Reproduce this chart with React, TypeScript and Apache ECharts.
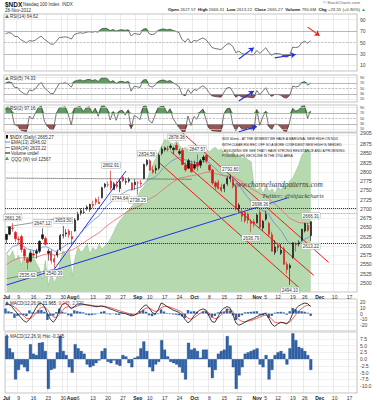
import React, { useEffect, useRef } from "react";
import * as echarts from "echarts";

// ---- data ----
const juneCloses = [2488, 2493, 2500, 2560, 2551, 2576, 2532, 2557, 2537, 2553, 2581, 2598, 2621, 2615, 2565, 2585, 2541, 2556, 2573, 2553, 2616];

const opens = [
  2617, 2631, 2648, 2636, 2618, 2625, 2590, 2565, 2558, 2578, 2580, 2585, 2620, 2620, 2580, 2585, 2565, 2575, 2590, 2628, 2632,
  2640, 2625, 2640, 2670, 2688, 2690, 2700, 2698, 2712, 2725, 2718, 2730, 2760, 2765, 2775, 2752, 2765, 2755, 2785, 2772, 2775, 2770, 2765,
  2770, 2770, 2782, 2820, 2830, 2805, 2805, 2810, 2850, 2860, 2862, 2866, 2860, 2872, 2850, 2858, 2818, 2810, 2822,
  2810, 2825, 2818, 2832, 2845, 2818, 2805, 2770, 2772, 2758, 2755, 2768, 2782, 2780, 2760, 2700, 2690, 2690, 2685, 2665, 2665,
  2662, 2690, 2648, 2672, 2660, 2630, 2582, 2600, 2580, 2592, 2550, 2540, 2568, 2605, 2605, 2615, 2640, 2655, 2627.57,
];
const highs = [
  2632, 2652, 2661.26, 2640, 2625, 2630, 2595, 2570, 2585, 2588, 2592, 2615, 2647.12, 2625, 2592, 2590, 2575, 2590, 2632, 2653.5, 2645,
  2645, 2640, 2675, 2692, 2702, 2703, 2710, 2714, 2722, 2730, 2733, 2760, 2770, 2774, 2802.91, 2772, 2775, 2780, 2790, 2782, 2785, 2772, 2780,
  2775, 2778, 2822, 2834.58, 2834, 2815, 2818, 2850, 2868, 2868, 2870, 2875, 2868, 2878.38, 2862, 2865, 2825, 2835, 2830,
  2830, 2847.57, 2835, 2845, 2846, 2820, 2808, 2775, 2778, 2768, 2768, 2788, 2792.8, 2786, 2762, 2715, 2700, 2695, 2690, 2672, 2672,
  2688, 2698.36, 2670, 2695, 2665, 2638, 2615, 2608, 2605, 2598, 2556, 2552, 2610, 2610, 2615, 2646, 2662, 2662, 2666.31,
];
const lows = [
  2606, 2628, 2638, 2610, 2605, 2582, 2560, 2535.62, 2555, 2570, 2565, 2580, 2615, 2600, 2560, 2552, 2540.39, 2568, 2585, 2620, 2625,
  2622, 2600, 2638, 2668, 2682, 2686, 2695, 2692, 2702, 2710, 2714, 2728, 2755, 2758, 2750, 2752, 2755, 2744.64, 2772, 2765, 2770, 2750, 2752,
  2738.25, 2760, 2780, 2815, 2802, 2795, 2795, 2805, 2845, 2855, 2855, 2860, 2848, 2858, 2845, 2818, 2800, 2808, 2798,
  2805, 2802, 2810, 2825, 2822, 2800, 2765, 2752, 2752, 2745, 2745, 2762, 2772, 2755, 2695, 2690, 2665, 2662, 2660, 2636.79, 2650,
  2660, 2648, 2640, 2668, 2625, 2585, 2575, 2585, 2575, 2548, 2525, 2494.1, 2565, 2585, 2598, 2612, 2636, 2638, 2613.22,
];
const closes = [
  2631, 2651, 2647, 2619, 2617, 2590, 2573, 2555, 2580, 2575, 2585, 2612, 2630, 2604, 2585, 2560, 2556, 2583, 2628, 2630, 2635,
  2630, 2618, 2670, 2685, 2695, 2691, 2705, 2712, 2709, 2718, 2714, 2757, 2767, 2765, 2756, 2768, 2760, 2774, 2776, 2774, 2779, 2752, 2772,
  2770, 2768, 2820, 2831, 2805, 2799, 2810, 2845, 2862, 2865, 2861, 2870, 2864, 2860, 2855, 2820, 2805, 2830, 2800,
  2820, 2815, 2830, 2840, 2830, 2805, 2770, 2760, 2755, 2750, 2765, 2783, 2786, 2765, 2700, 2710, 2680, 2668, 2670, 2660, 2660,
  2683, 2650, 2666, 2685, 2631, 2585, 2597, 2595, 2588, 2550, 2536, 2547, 2608, 2603, 2608, 2645, 2660, 2641.72, 2665.27,
];
// QQQ volume, relative units (0-100 of the panel)
const qqqVolume = [
  24, 22, 26, 20, 23, 17, 25, 20, 27, 22, 18, 15, 8, 20, 4, 12, 6, 10, 20, 26, 23,
  26, 10, 22, 28, 25, 27, 30, 24, 28, 26, 30, 27, 29, 31, 34, 38, 42, 45, 47, 50, 52, 54, 56,
  60, 64, 66, 70, 75, 80, 84, 88, 92, 96, 95, 94, 93, 95, 92, 90, 91, 89, 90,
  90, 91, 89, 92, 90, 88, 90, 91, 89, 90, 87, 88, 86, 88, 85, 86, 84, 85, 83, 82, 66,
  64, 66, 62, 67, 63, 65, 62, 66, 64, 68, 66, 70, 72, 76, 80, 86, 88, 90, 87,
];
const macdLine = [
  15, 16, 13, 6, 0, -6, -12, -15, -10, -2, 8, 16, 18, 12, 0, -10, -15, -8, 6, 16, 18,
  14, 8, 12, 16, 17, 16, 15, 14, 13, 12, 12, 13, 12, 10, 8, 6, 4, 2, 1, 0, -2, -4, -3,
  0, 6, 12, 15, 10, 2, -1, 6, 18, 16, 12, 9, 6, 4, 2, -3, -10, -16, -12,
  -4, 2, 6, 8, 6, -4, -14, -15, -6, 4, 9, 12, 10, -2, -16, -20, -18, -15, -12, -10, -8,
  -5, -3, -1, 0, -8, -18, -22, -18, -15, -16, -18, -12, 0, 8, 13, 16, 18, 17, 12,
];
const macdHist = [
  8.5, 4.0, 2.5, -7.5, -4.0, -2.0, -3.0, -4.5, 5.5, 2.0, 1.5, 6.0, 6.2, 3.0, -11.0, -4.0, -3.5, 2.5, 8.5, 3.0, 1.5,
  -3.0, -5.0, 5.5, 4.0, 3.0, 2.0, -2.0, -3.0, -2.5, -1.5, -0.5, 3.0, 4.0, -1.0, -1.5, -0.5, -2.0, -2.5, 1.5, 1.0, -1.5, -3.0, 0.5,
  1.0, 4.0, 6.5, 3.0, -3.0, -4.5, -2.0, -1.0, 7.0, 3.5, 1.0, -1.0, -1.5, -2.0, -3.0, -5.0, -7.5, 6.0, 3.5,
  4.0, 3.0, 0.5, 3.5, 3.5, -3.0, -7.0, -4.0, 2.0, 3.0, 3.5, 8.5, 5.0, -3.0, -11.0, -6.0, -3.0, 2.0, 2.5, 3.0, 3.5,
  4.0, -2.0, -3.0, 1.5, -7.5, -4.0, 1.5, 2.5, 3.0, 2.0, -2.0, 4.0, 9.5, 7.0, 4.5, 4.0, 3.0, 1.5, -4.0,
];

const holidays = ["2012-07-04", "2012-09-03", "2012-10-29", "2012-10-30", "2012-11-22"];
const xTickLabels: [string, string][] = [
  ["2012-07-02", "Jul"], ["2012-07-09", "9"], ["2012-07-16", "16"], ["2012-07-23", "23"], ["2012-07-30", "30"],
  ["2012-08-01", "Aug"], ["2012-08-06", "6"], ["2012-08-13", "13"], ["2012-08-20", "20"], ["2012-08-27", "27"],
  ["2012-09-04", "Sep"], ["2012-09-10", "10"], ["2012-09-17", "17"], ["2012-09-24", "24"],
  ["2012-10-01", "Oct"], ["2012-10-08", "8"], ["2012-10-15", "15"], ["2012-10-22", "22"],
  ["2012-11-01", "Nov"], ["2012-11-05", "5"], ["2012-11-12", "12"], ["2012-11-19", "19"], ["2012-11-26", "26"],
  ["2012-12-03", "Dec"], ["2012-12-10", "10"], ["2012-12-17", "17"],
];
const rsiTickLabels = [10, 30, 50, 70, 90];
const hiddenPriceTicks = [2475, 2900];
// peak / trough labels: [trading-day index, which price]
const priceLabels: [number, "H" | "L"][] = [
  [2, "H"], [7, "L"], [12, "H"], [16, "L"], [19, "H"], [35, "H"], [38, "L"], [44, "L"], [47, "H"], [57, "H"],
  [64, "H"], [75, "H"], [82, "L"], [85, "H"], [95, "L"], [102, "H"], [102, "L"],
];
// hand-drawn trend lines [dayIndex, price]
const trendLines = [
  { from: [16, 2537], to: [40, 2802], color: "#1b35e6", dash: "solid" },
  { from: [0, 2494], to: [94, 2729], color: "#1b35e6", dash: "solid" },
  { from: [59, 2905], to: [108, 2555], color: "#ee1c1c", dash: "solid" },
  { from: [55, 2855], to: [103, 2520], color: "#ee1c1c", dash: "solid" },
  { from: [51, 2826], to: [98, 2487], color: "#ee1c1c", dash: "solid" },
  { from: [0, 2511], to: [16, 2536], color: "#555", dash: "solid" },
  { from: [0, 2651], to: [17, 2673], color: "#555", dash: "solid" },
  { from: [0, 2783], to: [62, 2780], color: "#333", dash: "dotted" },
];
const rsi14Arrows = [
  { from: [78, 21], to: [83, 41], color: "#1b35e6" },
  { from: [90, 23], to: [97, 29], color: "#1b35e6" },
  { from: [101, 77], to: [105, 62], color: "#ee1c1c" },
];
const rsi5Arrows = [{ from: [78, 4], to: [83, 41], color: "#1b35e6" }];
const rsi2Arrows = [{ from: [78, 1], to: [84, 20], color: "#1b35e6" }];

// ---- helpers ----
function buildCategories(): string[] {
  const out: string[] = [];
  const d = new Date(Date.UTC(2012, 6, 2));
  const end = Date.UTC(2012, 11, 19);
  while (d.getTime() <= end) {
    const wd = d.getUTCDay();
    const key = d.toISOString().slice(0, 10);
    if (wd !== 0 && wd !== 6 && !holidays.includes(key)) out.push(key);
    d.setUTCDate(d.getUTCDate() + 1);
  }
  return out;
}
function ema(arr: number[], n: number): number[] {
  const k = 2 / (n + 1);
  const out: number[] = [];
  arr.forEach((v, i) => out.push(i === 0 ? v : v * k + out[i - 1] * (1 - k)));
  return out;
}
function rsiCalc(arr: number[], n: number): (number | null)[] {
  const out: (number | null)[] = [null];
  let ag = 0, al = 0;
  for (let i = 1; i < arr.length; i++) {
    const ch = arr[i] - arr[i - 1];
    const g = Math.max(ch, 0), l = Math.max(-ch, 0);
    if (i <= n) {
      ag += g / n; al += l / n;
      out.push(i === n ? 100 - 100 / (1 + ag / (al || 1e-9)) : null);
    } else {
      ag = (ag * (n - 1) + g) / n; al = (al * (n - 1) + l) / n;
      out.push(100 - 100 / (1 + ag / (al || 1e-9)));
    }
  }
  return out;
}

const FONT = "Liberation Sans, Arial, sans-serif";

function buildOption() {
  const cats = buildCategories();
  const tickMap = new Map(xTickLabels);
  const tickList: number[] = [];
  cats.forEach((c, i) => { if (tickMap.has(c)) tickList.push(i); });
  const tickIdx = new Set<number>(tickList);
  const crowded = new Set<number>();
  tickList.forEach((t, k) => { if (k > 0 && t - tickList[k - 1] <= 2) crowded.add(t); });
  const full = juneCloses.concat(closes);
  const off = juneCloses.length;
  const ema13 = ema(full, 13).slice(off);
  const ema34 = ema(full, 34).slice(off);
  const r14 = rsiCalc(full, 14).slice(off) as number[];
  const r5 = rsiCalc(full, 5).slice(off) as number[];
  const r2 = rsiCalc(full, 2).slice(off) as number[];
  const signal = ema(macdLine, 4);
  const candles = closes.map((c, i) => [opens[i], c, lows[i], highs[i]]);

  const G = [
    { top: 14, height: 57 },
    { top: 75, height: 27 },
    { top: 105, height: 27 },
    { top: 133, height: 159 },
    { top: 299, height: 32 },
    { top: 332, height: 62 },
  ];
  const grid = G.map((g) => ({
    left: 4, right: 20, top: g.top, height: g.height, show: true,
    borderColor: "#9c9c9c", borderWidth: 0.6, backgroundColor: "#fff",
  }));
  const xAxis = G.map((_, i) => ({
    type: "category", gridIndex: i, data: cats, boundaryGap: true,
    axisTick: { show: false }, axisLine: { show: false },
    axisLabel: {
      show: i === 3 || i === 5, interval: (idx: number) => tickIdx.has(idx),
      formatter: (v: string) => {
        const t = tickMap.get(v);
        if (!t) return "";
        const idx = cats.indexOf(v);
        const month = /[A-Za-z]/.test(t);
        if (crowded.has(idx)) return month ? `{bp|${t}}` : `{p|${t}}`;
        return month ? `{b|${t}}` : t;
      },
      fontSize: 5, color: "#333", margin: 2, fontFamily: FONT,
      rich: {
        b: { fontWeight: "bold", fontSize: 5, color: "#222", fontFamily: FONT },
        bp: { fontWeight: "bold", fontSize: 5, color: "#222", fontFamily: FONT, padding: [0, 0, 0, 5] },
        p: { fontSize: 5, color: "#333", fontFamily: FONT, padding: [0, 0, 0, 5] },
      },
    },
    splitLine: { show: true, interval: (idx: number) => tickIdx.has(idx), lineStyle: { color: "#dcdcdc", width: 0.6 } },
  }));
  const rsiAxis = (gi: number, fs: number) => ({
    type: "value", gridIndex: gi, min: 0, max: 100, interval: 10, position: "right",
    axisLine: { show: false }, axisTick: { show: false }, splitLine: { show: false },
    axisLabel: { fontSize: fs, color: "#444", margin: 3, fontFamily: FONT,
      formatter: (v: number) => (rsiTickLabels.includes(v) ? String(v) : "") },
  });
  const yAxis = [
    rsiAxis(0, 5),
    rsiAxis(1, 3.8),
    rsiAxis(2, 3.8),
    {
      type: "value", gridIndex: 3, min: 2475, max: 2905, interval: 25, position: "right",
      axisLine: { show: false }, axisTick: { show: false },
      splitLine: { show: true, lineStyle: { color: "#e8e8e8", width: 0.6 } },
      axisLabel: { fontSize: 5.3, color: "#444", margin: 3, fontFamily: FONT,
        formatter: (v: number) => (hiddenPriceTicks.includes(v) ? "" : String(v)) },
    },
    { type: "value", gridIndex: 3, min: 0, max: 100, show: false, splitLine: { show: false } },
    {
      type: "value", gridIndex: 4, min: -30, max: 25, interval: 10, position: "right",
      axisLine: { show: false }, axisTick: { show: false },
      splitLine: { show: true, lineStyle: { color: "#e6e6e6", width: 0.6 } },
      axisLabel: { fontSize: 5, color: "#444", margin: 3, fontFamily: FONT,
        formatter: (v: number) => (v === -30 ? "" : String(v)) },
    },
    {
      type: "value", gridIndex: 5, min: -12.5, max: 10, interval: 2.5, position: "right",
      axisLine: { show: false }, axisTick: { show: false },
      splitLine: { show: true, lineStyle: { color: "#e6e6e6", width: 0.6 } },
      axisLabel: { fontSize: 5, color: "#444", margin: 3, fontFamily: FONT,
        formatter: (v: number) => (v === -12.5 || v === 10 ? "" : v.toFixed(1)) },
    },
  ];

  const rsiBlock = (vals: number[], gi: number, arrows: any[]) => {
    const base = { type: "line", xAxisIndex: gi, yAxisIndex: gi, symbol: "none", silent: true };
    const levels = [
      { yAxis: 90, lineStyle: { color: "#e0e0e0", width: 0.6, type: "solid" } },
      { yAxis: 70, lineStyle: { color: "#9a9a9a", width: 0.7, type: "solid" } },
      { yAxis: 50, lineStyle: { color: "#9a9a9a", width: 0.6, type: "dashed" } },
      { yAxis: 30, lineStyle: { color: "#9a9a9a", width: 0.7, type: "solid" } },
      { yAxis: 10, lineStyle: { color: "#e0e0e0", width: 0.6, type: "solid" } },
    ];
    const arrowData = arrows.map((a) => [
      { coord: a.from, symbol: "none", lineStyle: { color: a.color, width: 1.1, type: "solid" } },
      { coord: a.to, symbol: "arrow", symbolSize: 5 },
    ]);
    return [
      { ...base, stack: "lo" + gi, data: vals.map((v) => Math.min(v, 30)), lineStyle: { opacity: 0 } },
      { ...base, stack: "lo" + gi, data: vals.map((v) => 30 - Math.min(v, 30)), lineStyle: { opacity: 0 }, areaStyle: { color: "#9a5454", opacity: 1 } },
      { ...base, stack: "hi" + gi, data: vals.map(() => 70), lineStyle: { opacity: 0 } },
      { ...base, stack: "hi" + gi, data: vals.map((v) => Math.max(v - 70, 0)), lineStyle: { opacity: 0 }, areaStyle: { color: "#5f9a5f", opacity: 1 } },
      {
        ...base, data: vals, lineStyle: { color: "#3a3a3a", width: 0.7 }, z: 4,
        markLine: { silent: true, symbol: "none", label: { show: false }, data: [...levels, ...arrowData] },
      },
    ];
  };

  const series: any[] = [
    ...rsiBlock(r14, 0, rsi14Arrows),
    ...rsiBlock(r5, 1, rsi5Arrows),
    ...rsiBlock(r2, 2, rsi2Arrows),
    {
      type: "line", xAxisIndex: 3, yAxisIndex: 4, data: qqqVolume, symbol: "none", silent: true, z: 1,
      lineStyle: { width: 0.5, color: "#8cc286" }, areaStyle: { color: "#b6d9b0", opacity: 1 },
    },
    ...trendLines.map((t) => ({
      type: "line", xAxisIndex: 3, yAxisIndex: 3, data: [t.from, t.to], symbol: "none", silent: true, z: 3,
      lineStyle: { color: t.color, width: t.color === "#555" ? 0.6 : 1, type: t.dash },
    })),
    {
      type: "line", xAxisIndex: 3, yAxisIndex: 3, data: ema13.map((v) => +v.toFixed(2)), symbol: "none", silent: true, z: 4,
      lineStyle: { color: "#6c86d8", width: 0.8 },
    },
    {
      type: "line", xAxisIndex: 3, yAxisIndex: 3, data: ema34.map((v) => +v.toFixed(2)), symbol: "none", silent: true, z: 4,
      lineStyle: { color: "#e76a6a", width: 0.8 },
    },
    {
      type: "candlestick", xAxisIndex: 3, yAxisIndex: 3, data: candles, barWidth: 1.8, z: 5,
      itemStyle: { color: "#111", color0: "#d81818", borderColor: "#111", borderColor0: "#d81818", borderWidth: 0.6 },
      markLine: {
        silent: true, symbol: "none", label: { show: false },
        data: [
          { yAxis: 2702, lineStyle: { color: "#222", type: "dotted", width: 1 } },
          { yAxis: 2688, lineStyle: { color: "#888", type: "dotted", width: 0.8 } },
          { yAxis: 2608, lineStyle: { color: "#222", type: "dotted", width: 1 } },
        ],
      },
      markPoint: {
        symbol: "rect", symbolSize: 1, itemStyle: { color: "rgba(0,0,0,0)" }, silent: true,
        label: {
          show: true, fontSize: 4.5, color: "#333", backgroundColor: "#fff", borderColor: "#999",
          borderWidth: 0.4, padding: [1, 1, 0, 1], distance: 2, formatter: "{c}", fontFamily: FONT,
        },
        data: priceLabels.map(([i, t]) => {
          const v = t === "H" ? highs[i] : lows[i];
          return { coord: [i, v], value: v.toFixed(2), label: { position: t === "H" ? "top" : "bottom" } };
        }),
      },
    },
    {
      type: "bar", xAxisIndex: 4, yAxisIndex: 5, data: macdHist, barWidth: 2.4, silent: true, z: 2,
      itemStyle: { color: "#2f62a8" },
    },
    {
      type: "line", xAxisIndex: 4, yAxisIndex: 5, data: signal.map((v) => +v.toFixed(2)), symbol: "none", silent: true, z: 3,
      lineStyle: { color: "#e03c3c", width: 0.8 },
    },
    {
      type: "line", xAxisIndex: 4, yAxisIndex: 5, data: macdLine, symbol: "none", silent: true, z: 4,
      lineStyle: { color: "#111", width: 0.8 },
    },
    {
      type: "bar", xAxisIndex: 5, yAxisIndex: 6, data: macdHist, barWidth: 3, silent: true,
      itemStyle: { color: "#2f62a8", borderColor: "#1d4580", borderWidth: 0.3 },
    },
  ];

  const txt = (x: number, y: number, text: string, fs: number, fill = "#222", extra: any = {}) => ({
    type: "text", x, y, silent: true, z: 100,
    style: { text, fontSize: fs, fill, fontFamily: FONT, ...extra },
  });
  const tri = (x: number, y: number, color: string) => ({
    type: "polygon", silent: true, z: 100,
    shape: { points: [[x, y + 3.5], [x + 2, y], [x + 4, y + 3.5]] },
    style: { fill: color },
  });
  const legLine = (x: number, y: number, color: string) => ({
    type: "line", silent: true, z: 100,
    shape: { x1: x, y1: y, x2: x + 5, y2: y }, style: { stroke: color, lineWidth: 1 },
  });

  const boldRich = { b: { fontWeight: "bold", fontSize: 4.3, fill: "#111", fontFamily: FONT },
    g: { fill: "#2a9a2a", fontSize: 4.3, fontFamily: FONT } };
  const SERIF = "Liberation Serif, DejaVu Serif, serif";

  const graphic = [
    txt(5, 0.5, "$NDX", 6.5, "#111", { fontWeight: "bold" }),
    txt(23, 1.5, "Nasdaq 100 Index  INDX", 4.5, "#333"),
    txt(5, 7.5, "28-Nov-2012", 4.5, "#333"),
    txt(323, 0.5, "© StockCharts.com", 4.3, "#666"),
    txt(168, 7.5, "{b|Open} 2627.57  {b|High} 2666.31  {b|Low} 2613.22  {b|Close} 2665.27  {b|Volume} 790.6M  {b|Chg} +23.55 (+0.90%) {g|▲}", 4.3, "#333", { rich: boldRich }),
    tri(5, 14.5, "#4a8a4a"), txt(10, 14, "RSI(14) 64.62", 4.5, "#333"),
    tri(5, 76.5, "#4a8a4a"), txt(10, 76, "RSI(5) 74.33", 4.5, "#333"),
    tri(5, 106.5, "#4a8a4a"), txt(10, 106, "RSI(2) 97.16", 4.5, "#333"),
    // main legend
    { type: "rect", silent: true, z: 100, shape: { x: 6, y: 135, width: 2, height: 3.5 }, style: { fill: "#111" } },
    txt(10, 134.5, "$NDX (Daily) 2665.27", 4.5, "#333"),
    legLine(5, 142, "#6c86d8"), txt(11, 140, "EMA(13) 2646.02", 4.5, "#333"),
    legLine(5, 147.5, "#e76a6a"), txt(11, 145.5, "EMA(34) 2633.22", 4.5, "#333"),
    legLine(5, 153, "#111"), txt(11, 151, "Volume undef", 4.5, "#333"),
    tri(5, 156.5, "#5f9a5f"), txt(11, 156.5, "QQQ (W) vol 12567", 4.5, "#333"),
    // annotation
    txt(222, 137.5, "NDX 60min : AT THE MOMENT WE HAVE A MARGINAL NEW HIGH ON NDX", 3.35, "#222"),
    txt(222, 143.3, "WITH CLEAR RSI REC OFF SO A MORE CONFIDENT NEW HIGH IS NEEDED", 3.35, "#222"),
    txt(222, 149.1, "- ASSUMING WE SEE THAT I HAVE STRONG RESISTANCE AND A PROMISING", 3.35, "#222"),
    txt(222, 154.9, "POSSIBLE IHS NECKLINE IN THE 2700 AREA", 3.35, "#222"),
    txt(232, 181, "www.channelsandpatterns.com", 7.3, "#3a3a3a", { fontFamily: SERIF, fontStyle: "italic" }),
    txt(262, 192, "Twitter: @shjackcharts", 6.6, "#3a3a3a", { fontFamily: SERIF, fontStyle: "italic" }),
    // MACD headers
    tri(5, 301, "#2f62a8"),
    txt(10, 300.5, "MACD(12,26,9) {k|11.965}, {r|9.245}, {bl|2.720}", 4.5, "#333", {
      rich: { k: { fill: "#111", fontSize: 4.5 }, r: { fill: "#e03c3c", fontSize: 4.5 }, bl: { fill: "#2f62a8", fontSize: 4.5 } },
    }),
    tri(5, 334, "#2f62a8"),
    txt(10, 333.5, "MACD(12,26,9) Hist -0.245", 4.5, "#333"),
  ];

  return {
    animation: false,
    backgroundColor: "#fff",
    textStyle: { fontFamily: FONT },
    grid, xAxis, yAxis, series, graphic,
  };
}

export default function App() {
  const ref = useRef<HTMLDivElement>(null);
  useEffect(() => {
    document.body.style.margin = "0";
    const chart = echarts.init(ref.current!, undefined, { renderer: "svg" });
    chart.setOption(buildOption() as any);
    return () => chart.dispose();
  }, []);
  return <div ref={ref} style={{ width: 377, height: 400 }} />;
}
